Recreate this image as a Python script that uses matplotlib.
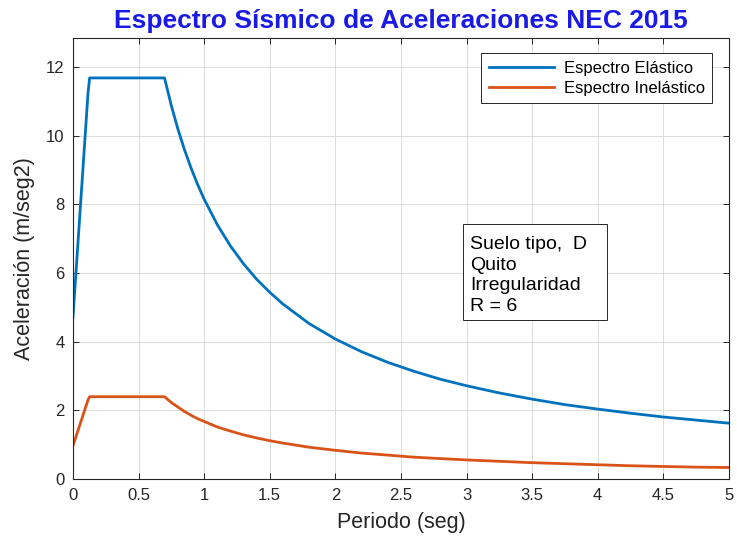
import matplotlib
matplotlib.use("Agg")
import matplotlib.pyplot as plt
from matplotlib.patches import Rectangle

plt.rcParams['font.family'] = ['Liberation Sans', 'DejaVu Sans']

# Periodo (seg)
periodo = [0.0, 0.115, 0.127, 0.698, 0.75, 0.8, 0.85, 0.9, 0.95, 1.0, 1.1, 1.2, 1.3,
           1.4, 1.5, 1.6, 1.8, 2.0, 2.2, 2.4, 2.6, 2.8, 3.0, 3.25, 3.5, 3.75,
           4.0, 4.25, 4.5, 4.75, 5.0]

# Espectro elastico (m/seg2)
sa_elastico = [4.71, 11.25, 11.68, 11.68, 10.87, 10.19, 9.59, 9.06, 8.58, 8.15, 7.41,
               6.79, 6.27, 5.82, 5.44, 5.10, 4.53, 4.08, 3.71, 3.40, 3.14, 2.91,
               2.72, 2.51, 2.33, 2.17, 2.04, 1.92, 1.81, 1.72, 1.63]

# Espectro inelastico (m/seg2)
sa_inelastico = [0.97, 2.31, 2.40, 2.40, 2.23, 2.10, 1.97, 1.86, 1.76, 1.68, 1.52,
                 1.40, 1.29, 1.20, 1.12, 1.05, 0.93, 0.84, 0.76, 0.70, 0.64, 0.60,
                 0.56, 0.52, 0.48, 0.45, 0.42, 0.39, 0.37, 0.35, 0.34]

x_ticks = [0, 0.5, 1, 1.5, 2, 2.5, 3, 3.5, 4, 4.5, 5]
x_labels = ["0", "0.5", "1", "1.5", "2", "2.5", "3", "3.5", "4", "4.5", "5"]
y_ticks = [0, 2, 4, 6, 8, 10, 12]

info = "Suelo tipo,  D\nQuito\nIrregularidad\nR = 6"

fig = plt.figure(figsize=(7.37, 5.39), dpi=100)
ax = fig.add_axes([0.099, 0.111, 0.890, 0.819])

ax.plot(periodo, sa_elastico, color="#0072BD", lw=2.0, label="Espectro Elástico")
ax.plot(periodo, sa_inelastico, color="#D95319", lw=2.0, label="Espectro Inelástico")

ax.set_xlim(0, 5)
ax.set_ylim(0, 12.85)
ax.set_xticks(x_ticks)
ax.set_xticklabels(x_labels)
ax.set_yticks(y_ticks)
ax.grid(True, color="#dcdcdc", lw=0.7)
ax.set_axisbelow(True)
ax.tick_params(direction="in", top=True, right=True, labelsize=12,
               colors="#262626", length=4, width=0.7, pad=6)
for s in ax.spines.values():
    s.set_color("#262626")
    s.set_linewidth(0.8)

ax.set_xlabel("Periodo (seg)", fontsize=15.5, color="#262626", labelpad=7)
ax.set_ylabel("Aceleración (m/seg2)", fontsize=15.5, color="#262626", labelpad=8)
ax.set_title("Espectro Sísmico de Aceleraciones NEC 2015", fontsize=19,
             fontweight="bold", color="#1a1ae6", pad=7)

leg = ax.legend(loc="upper right", bbox_to_anchor=(0.975, 0.965), fontsize=12,
                handlelength=3.9, handletextpad=0.6, fancybox=False,
                edgecolor="#262626", framealpha=1, borderaxespad=0.0,
                borderpad=0.45, labelspacing=0.3)
leg.get_frame().set_linewidth(0.7)

# info box
ax.add_patch(Rectangle((0.5945, 0.360), 0.2195, 0.2176, transform=ax.transAxes,
                       fc="white", ec="#262626", lw=0.7, zorder=4))
ax.text(0.606, 0.550, info, transform=ax.transAxes, fontsize=14, va="top",
        ha="left", linespacing=1.26, color="#000000", zorder=5)

fig.savefig("out.png", dpi=100)
